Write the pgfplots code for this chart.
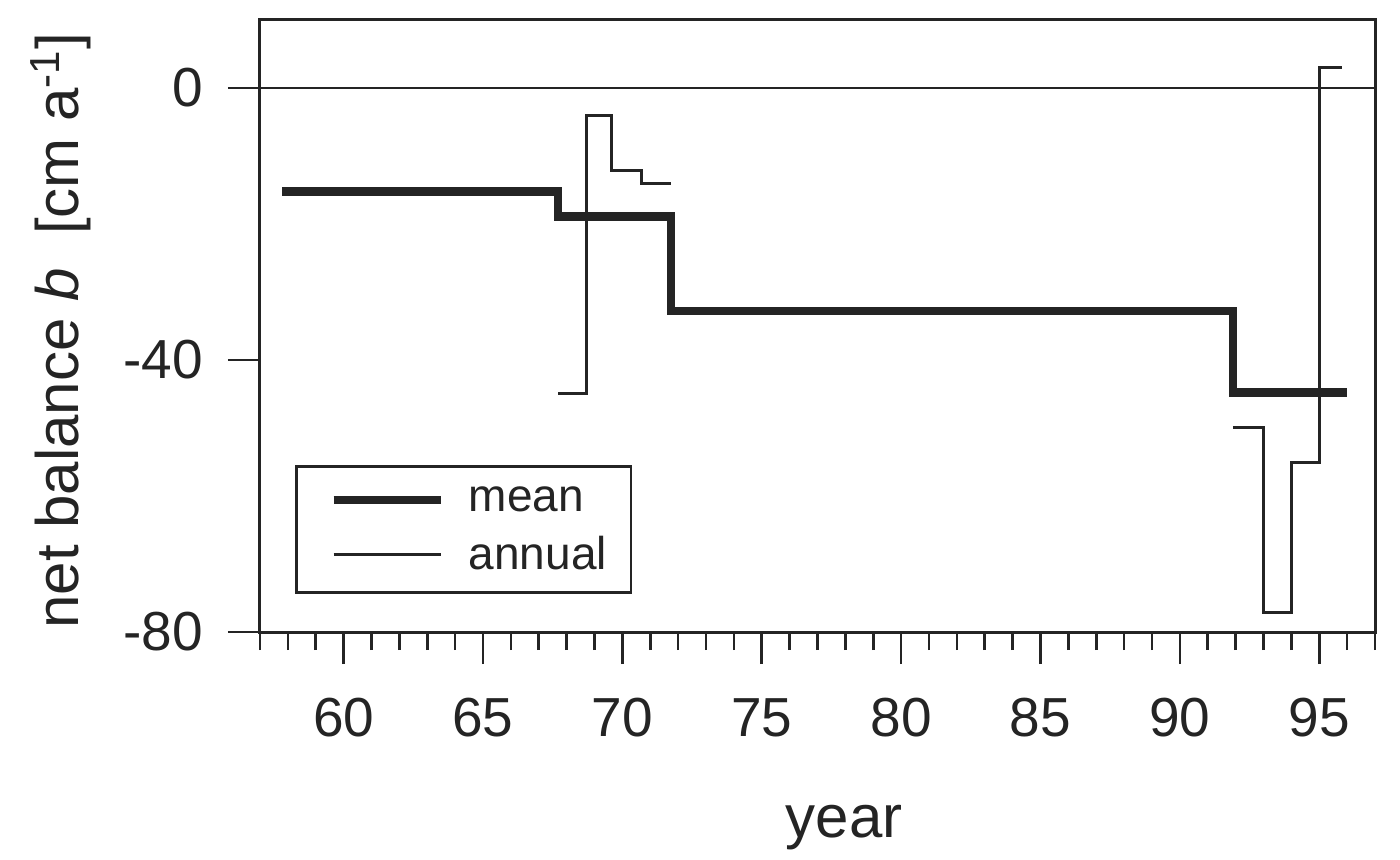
\documentclass[border=0pt]{standalone}
\usepackage{pgfplots}
\pgfplotsset{compat=1.18}
\usepackage{fontspec}
\setmainfont{Liberation Sans}
\definecolor{ink}{HTML}{242424}

\begin{document}
\begin{tikzpicture}
\begin{axis}[
  name=ax,
  scale only axis, width=557.5pt, height=306pt,
  xmin=57, xmax=97, ymin=-80, ymax=10,
  axis line style={ink, line width=1.5pt},
  xtick={60,65,...,95}, xticklabels={60,65,70,75,80,85,90,95},
  minor xtick={57,...,97},
  ytick={-80,-40,0}, yticklabels={-80,-40,0},
  tick align=outside, xtick pos=bottom, ytick pos=left,
  major tick length=16pt, minor tick length=9pt,
  every tick/.style={ink, line width=1.3pt},
  tick label style={font=\fontsize{27.5}{30}\selectfont, text=ink},
  xticklabel style={anchor=base, yshift=-36pt},
  yticklabel style={anchor=east, xshift=-9pt},
  xlabel={year},
  ylabel={net balance \textit{b}\ \ [cm a\textsuperscript{-1}]},
  label style={font=\fontsize{30}{34}\selectfont, text=ink},
  xlabel style={at={(axis description cs:0.524,-0.3366)}, anchor=base},
  ylabel style={at={(axis description cs:-0.1632,0.492)}, anchor=base},
  legend style={at={(axis description cs:0.0314,0.273)}, anchor=north west,
    draw=ink, line width=1.4pt, fill=white,
    font=\fontsize{23}{26}\selectfont, text=ink,
    inner xsep=10pt, inner ysep=8pt, row sep=7pt},
  legend image code/.code={\path (0pt,0pt); \draw[#1] (6.5pt,0pt) -- (60pt,0pt); \path (70pt,0pt);},
  legend cell align=left,
  clip=false,
]
\addplot[ink, line width=1pt, forget plot] coordinates {(57,0) (97,0)};
\addplot[ink, line width=4.2pt, const plot] coordinates {
  (57.8,-15.2) (67.7,-18.9) (71.75,-32.8) (91.9,-44.8) (96.0,-44.8)};
\addlegendentry{mean}
\addplot[ink, line width=1.5pt, const plot, forget plot] coordinates {
  (67.7,-44.9) (68.7,-4.0) (69.6,-12.1) (70.7,-14.1) (71.75,-14.1)};
\addplot[ink, line width=1.5pt, const plot] coordinates {
  (91.9,-50.0) (93.0,-77.2) (94.0,-55.1) (95.0,3.0) (95.8,3.0)};
\addlegendentry{annual}
\end{axis}
\pgfresetboundingbox
\path[use as bounding box] ([shift={(-130pt,-114pt)}]ax.south west) rectangle ([shift={(12.5pt,10pt)}]ax.north east);
\end{tikzpicture}
\end{document}
